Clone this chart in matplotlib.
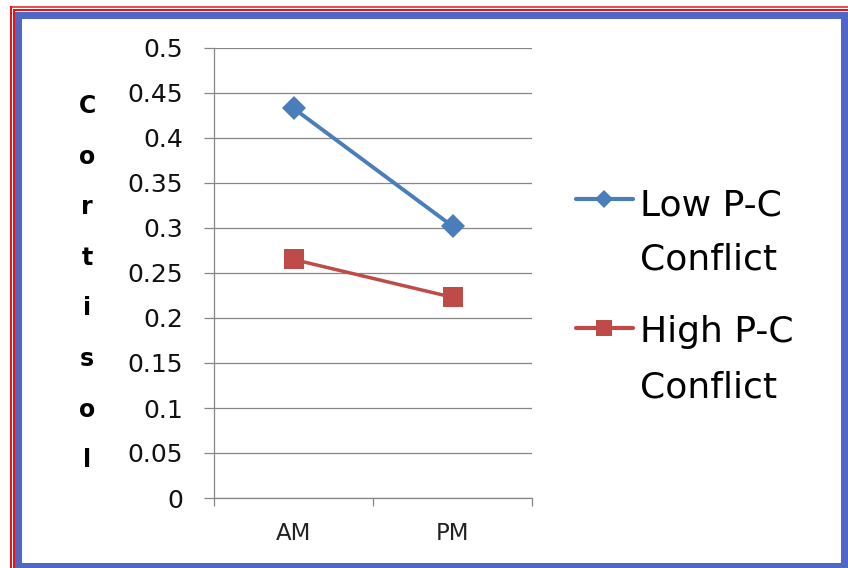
import matplotlib
matplotlib.use("Agg")
import matplotlib.pyplot as plt
from matplotlib.patches import Rectangle
from matplotlib.lines import Line2D
import numpy as np

# --- data ---
categories = ["AM", "PM"]
low_conflict = [0.433, 0.302]
high_conflict = [0.265, 0.223]
series_labels = ["Low P-C\nConflict", "High P-C\nConflict"]
y_ticks = [0, 0.05, 0.1, 0.15, 0.2, 0.25, 0.3, 0.35, 0.4, 0.45, 0.5]
y_tick_labels = ["0", "0.05", "0.1", "0.15", "0.2", "0.25", "0.3", "0.35", "0.4", "0.45", "0.5"]
y_title = "Cortisol"

BLUE = "#4A7EBB"
RED = "#BE4B48"
GRID = "#878787"
FRAME_BLUE = "#5067C8"
FRAME_RED = "#F01010"
TEXT = "#111111"

plt.rcParams["font.family"] = ["DejaVu Sans"]

W, H = 848, 568
fig = plt.figure(figsize=(W / 100, H / 100), dpi=100)
fig.patch.set_facecolor("white")

# main plot area
ax = fig.add_axes([214 / W, 70 / H, 318 / W, 450 / H])
ax.set_facecolor("none")
x = np.arange(len(categories))
ax.plot(x, low_conflict, color=BLUE, lw=2.8, marker="D", ms=12,
        markeredgewidth=0, solid_capstyle="round", zorder=3)
ax.plot(x, high_conflict, color=RED, lw=2.5, marker="s", ms=15,
        markeredgewidth=0, solid_capstyle="round", zorder=3)

ax.set_xlim(-0.5, len(categories) - 0.5)
ax.set_ylim(0, 0.5)
ax.set_yticks(y_ticks)
ax.set_yticklabels(y_tick_labels, color=TEXT)
ax.yaxis.grid(True, color=GRID, lw=0.9)
ax.set_axisbelow(True)

# category boundaries get the tick marks, labels sit in the middle
ax.set_xticks(np.arange(-0.5, len(categories)), minor=False)
ax.set_xticklabels([])
ax.set_xticks(x, minor=True)
ax.set_xticklabels(categories, minor=True, color="#222222")
ax.tick_params(axis="x", which="major", length=6, width=0.9, color=GRID, direction="out")
ax.tick_params(axis="x", which="minor", length=0, pad=17, labelsize=16.5)
ax.tick_params(axis="y", length=7.5, width=0.9, color=GRID, direction="out",
               pad=15, labelsize=18)

for side in ("top", "right"):
    ax.spines[side].set_visible(False)
for side in ("left", "bottom"):
    ax.spines[side].set_color(GRID)
    ax.spines[side].set_linewidth(0.9)

# overlay in pixel coordinates for frame, stacked title and legend
ov = fig.add_axes([0, 0, 1, 1], zorder=5)
ov.set_xlim(0, W)
ov.set_ylim(H, 0)
ov.axis("off")
ov.patch.set_visible(False)

# double red rule
ov.add_patch(Rectangle((10, 6), W, 1.6, color=FRAME_RED, lw=0, alpha=0.75))
ov.add_patch(Rectangle((10, 6), 1.6, H, color=FRAME_RED, lw=0))
ov.add_patch(Rectangle((13, 9), W, 2.2, color=FRAME_RED, lw=0))
ov.add_patch(Rectangle((13, 9), 2.2, H, color=FRAME_RED, lw=0))
# thick blue frame
ov.add_patch(Rectangle((15, 12), W, 6.5, color=FRAME_BLUE, lw=0))
ov.add_patch(Rectangle((15, 12), 7, H, color=FRAME_BLUE, lw=0))
ov.add_patch(Rectangle((841, 12), 10, H, color=FRAME_BLUE, lw=0))
ov.add_patch(Rectangle((15, 562.5), W, 10, color=FRAME_BLUE, lw=0))

# stacked axis title
for i, ch in enumerate(y_title):
    ov.text(87, 113 + 50.6 * i, ch, ha="center", va="baseline",
            fontsize=17, fontweight="bold", color="black")

# legend
lines = ax.get_lines()
legend_rows = [(199, 215, 270), (328, 342, 397)]
legend_ms = [9, 11]
for line, label, (hy, b1, b2), ms in zip(lines, series_labels, legend_rows, legend_ms):
    ov.add_line(Line2D([576, 633], [hy, hy], color=line.get_color(),
                       lw=3.0, marker=None, solid_capstyle="round"))
    ov.add_line(Line2D([604], [hy], color=line.get_color(), marker=line.get_marker(),
                       ms=ms, markeredgewidth=0, linestyle="none"))
    first, second = label.split("\n")
    ov.text(640, b1, first, ha="left", va="baseline", fontsize=26, color="black")
    ov.text(640, b2, second, ha="left", va="baseline", fontsize=26, color="black")

fig.savefig("out.png", dpi=100, facecolor="white")
